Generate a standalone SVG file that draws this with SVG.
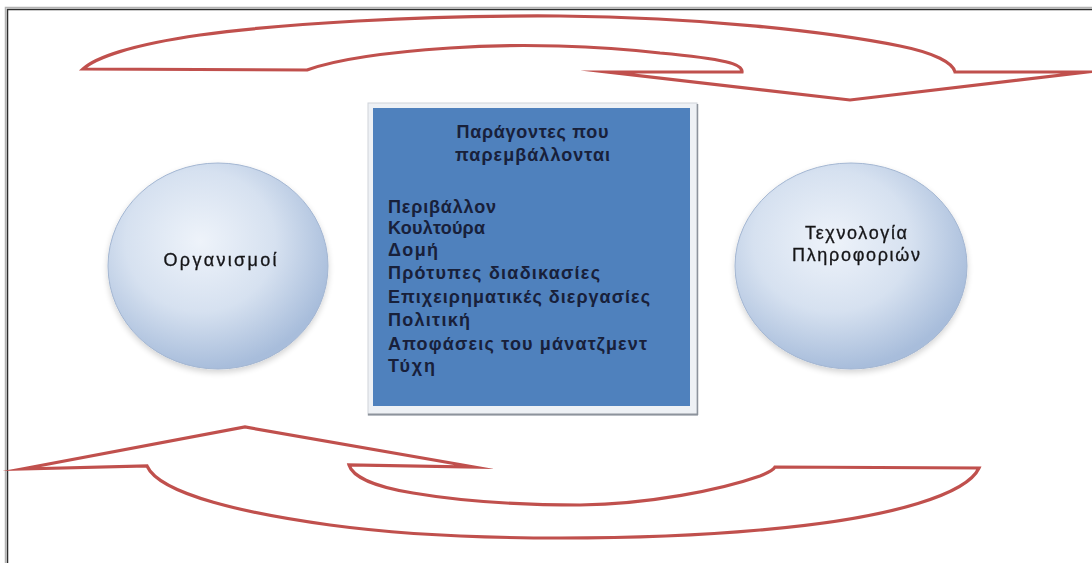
<svg xmlns="http://www.w3.org/2000/svg" width="1092" height="563" viewBox="0 0 1092 563">
  <defs>
    <radialGradient id="ballFill" cx="42%" cy="38%" r="62%">
      <stop offset="0" stop-color="#eef3fa"/>
      <stop offset="0.55" stop-color="#d6e1f0"/>
      <stop offset="1" stop-color="#a8bddb"/>
    </radialGradient>
    <filter id="softShadow" x="-10%" y="-10%" width="120%" height="125%">
      <feGaussianBlur in="SourceAlpha" stdDeviation="3"/>
      <feOffset dx="0" dy="3" result="b"/>
      <feComponentTransfer><feFuncA type="linear" slope="0.18"/></feComponentTransfer>
      <feMerge><feMergeNode/><feMergeNode in="SourceGraphic"/></feMerge>
    </filter>
    <style>
      .arrow { fill: none; stroke: #c0504d; stroke-width: 3.2; stroke-linejoin: miter; stroke-miterlimit: 20; }
      .ball { fill: url(#ballFill); stroke: #a3b6d2; stroke-width: 1; }
      .ballText { font-family: "Liberation Sans", Arial, sans-serif; font-size: 18px; fill: #141418; text-anchor: middle; stroke: #141418; stroke-width: 0.3; }
      .boxText { font-family: "Liberation Sans", Arial, sans-serif; font-size: 18px; font-weight: bold; fill: #18203a; }
      .boxTitle { text-anchor: middle; }
    </style>
  </defs>

  <rect x="0" y="0" width="1092" height="563" fill="#ffffff"/>

  <!-- outer frame, running off the right and bottom edges -->
  <g id="frame" fill="none">
    <rect x="5.5" y="7.5" width="1100" height="600" stroke="#b4b4b4" stroke-width="1.5"/>
    <rect x="7.5" y="9.5" width="1100" height="600" stroke="#2e2e2e" stroke-width="1.5"/>
  </g>

  <!-- curved block arrows -->
  <g id="connectors">
    <path id="arrow-top" class="arrow" d="M83,69 C95,58 130,45 200,35 C280,24 420,15 560,16 C700,17 830,32 900,46 C935,53 953,63 955,72 L1087,72 L850,100 L608,72 L742,72 C743,64 725,59 660,53 C600,46 520,43 450,48 C390,52 340,58 307,70 Z"/>
    <path id="arrow-bottom" class="arrow" d="M22,469 L245,427 L474,467 L349,465 C352,475 370,486 413,493 C460,501 520,505 580,505 C650,504 720,490 760,476 C770,472 774,469 775,467 L979,468 C968,492 900,518 760,530 C660,539 470,544 330,525 C250,514 160,495 147,466 Z"/>
  </g>

  <g id="node-organisations" filter="url(#softShadow)">
    <ellipse class="ball" cx="218" cy="266" rx="110" ry="103"/>
    <text class="ballText" x="220" y="266" textLength="113" lengthAdjust="spacing">Οργανισμοί</text>
  </g>

  <g id="node-factors">
    <rect x="368" y="103" width="329" height="312" fill="#eef1f5" stroke="#d0d4da" stroke-width="1"/>
    <line x1="368" y1="414.5" x2="698" y2="414.5" stroke="#8d939c" stroke-width="2"/>
    <line x1="697.5" y1="104" x2="697.5" y2="415" stroke="#8d939c" stroke-width="1.5"/>
    <rect x="373" y="108" width="317" height="298" fill="#4f81bd"/>
    <text class="boxText boxTitle" x="532.5" y="138" textLength="152" lengthAdjust="spacing">Παράγοντες που</text>
    <text class="boxText boxTitle" x="532.5" y="161" textLength="155" lengthAdjust="spacing">παρεμβάλλονται</text>
    <text class="boxText" x="388" y="213" textLength="108" lengthAdjust="spacing">Περιβάλλον</text>
    <text class="boxText" x="388" y="234" textLength="97" lengthAdjust="spacing">Κουλτούρα</text>
    <text class="boxText" x="388" y="256" textLength="50" lengthAdjust="spacing">Δομή</text>
    <text class="boxText" x="388" y="279" textLength="212" lengthAdjust="spacing">Πρότυπες διαδικασίες</text>
    <text class="boxText" x="388" y="303" textLength="262" lengthAdjust="spacing">Επιχειρηματικές διεργασίες</text>
    <text class="boxText" x="388" y="326" textLength="82" lengthAdjust="spacing">Πολιτική</text>
    <text class="boxText" x="388" y="350" textLength="259" lengthAdjust="spacing">Αποφάσεις του μάνατζμεντ</text>
    <text class="boxText" x="388" y="372" textLength="47" lengthAdjust="spacing">Τύχη</text>
  </g>

  <g id="node-it" filter="url(#softShadow)">
    <ellipse class="ball" cx="851" cy="266" rx="116" ry="103"/>
    <text class="ballText" x="856" y="239" textLength="102" lengthAdjust="spacing">Τεχνολογία</text>
    <text class="ballText" x="856" y="261" textLength="128" lengthAdjust="spacing">Πληροφοριών</text>
  </g>
</svg>
